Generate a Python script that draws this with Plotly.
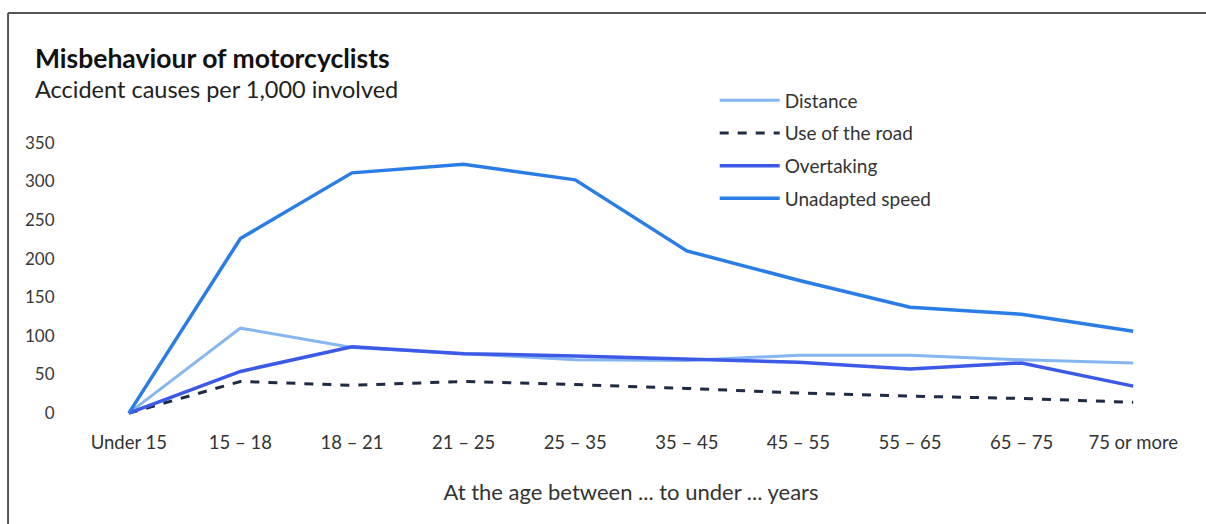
import plotly.graph_objects as go

categories = ["Under 15", "15 – 18", "18 – 21", "21 – 25", "25 – 35",
              "35 – 45", "45 – 55", "55 – 65", "65 – 75", "75 or more"]
distance = [0, 110, 85, 77, 69, 68, 75, 75, 69, 65]
use_of_road = [0, 41, 36, 41, 37, 32, 26, 22, 19, 14]
overtaking = [0, 54, 86, 77, 74, 70, 66, 57, 65, 35]
unadapted_speed = [0, 226, 311, 322, 302, 210, 172, 137, 128, 106]
y_ticks = [0, 50, 100, 150, 200, 250, 300, 350]

FONT = "Lato, 'Open Sans', sans-serif"

fig = go.Figure()
series = [
    ("Distance", distance, "#86b6f2", 3, "solid"),
    ("Use of the road", use_of_road, "#1f2b45", 3, "dash"),
    ("Overtaking", overtaking, "#3c5ae6", 3.5, "solid"),
    ("Unadapted speed", unadapted_speed, "#2b7de6", 3.5, "solid"),
]
for i, (name, vals, col, w, dash) in enumerate(series):
    fig.add_trace(go.Scatter(
        x=categories, y=vals, name=name, mode="lines",
        line=dict(color=col, width=w, dash=dash),
        legendgroup=f"g{i}",
    ))

fig.update_layout(
    width=1206, height=524,
    margin=dict(l=73, r=17, t=135, b=107),
    paper_bgcolor="white", plot_bgcolor="white",
    font=dict(family=FONT, color="#333333"),
    showlegend=True,
    legend=dict(x=0.575, y=1.19, xanchor="left", yanchor="top",
                font=dict(size=19, color="#333333"),
                itemwidth=60,
                traceorder="grouped", tracegroupgap=5,
                bgcolor="rgba(0,0,0,0)"),
    xaxis=dict(type="category", range=[-0.5, 9.5], showgrid=False,
               showline=False, zeroline=False,
               ticks="outside", ticklen=9, tickcolor="rgba(0,0,0,0)",
               tickfont=dict(size=18.5, color="#333333"),
               title=dict(text="At the age between ... to under ... years",
                          font=dict(size=22, color="#333333"), standoff=32)),
    yaxis=dict(range=[-5, 360], showgrid=False, showline=False, zeroline=False,
               tickvals=y_ticks, ticks="outside", ticklen=14,
               tickcolor="rgba(0,0,0,0)",
               tickfont=dict(size=17, color="#383838")),
    annotations=[
        dict(text="<b>Misbehaviour of motorcyclists</b>", xref="paper", yref="paper",
             x=-0.0358, y=1.273, xanchor="left", yanchor="middle", showarrow=False,
             font=dict(size=26.5, color="#111111", family=FONT)),
        dict(text="Accident causes per 1,000 involved", xref="paper", yref="paper",
             x=-0.0358, y=1.163, xanchor="left", yanchor="middle", showarrow=False,
             font=dict(size=23.5, color="#222222", family=FONT)),
    ],
    shapes=[
        dict(type="line", xref="paper", yref="paper", x0=-0.0582, x1=1.02,
             y0=1.4326, y1=1.4326, line=dict(color="#555555", width=2)),
        dict(type="line", xref="paper", yref="paper", x0=-0.0582, x1=-0.0582,
             y0=1.4326, y1=-0.4, line=dict(color="#555555", width=2)),
    ],
)

fig.write_html("out.html")
